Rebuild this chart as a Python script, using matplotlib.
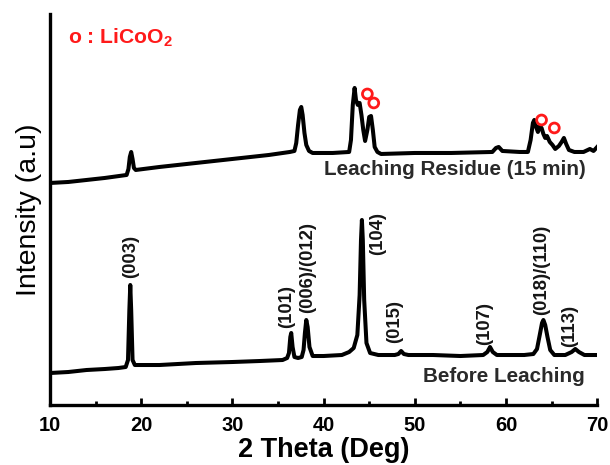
import matplotlib
matplotlib.use("Agg")
import matplotlib.pyplot as plt
from matplotlib.ticker import MultipleLocator

plt.rcParams['font.family'] = ['Liberation Sans', 'DejaVu Sans']
plt.rcParams['mathtext.fontset'] = 'custom'
plt.rcParams['mathtext.rm'] = 'Liberation Sans:bold'
plt.rcParams['mathtext.bf'] = 'Liberation Sans:bold'

# Before leaching pattern (2theta, intensity a.u.)
before_2theta = [10.0, 12.0, 14.0, 16.0, 17.5, 18.3, 18.55, 18.7, 18.8, 18.9, 19.05, 19.3, 22.0, 26.0,
                 30.0, 33.0, 35.5, 36.0, 36.2, 36.35, 36.45, 36.6, 36.8, 37.2, 37.6, 37.8, 37.95,
                 38.1, 38.25, 38.45, 38.8, 40.0, 42.0, 42.8, 43.3, 43.7, 43.95, 44.1, 44.2, 44.3,
                 44.45, 44.7, 45.1, 46.0, 47.8, 48.2, 48.5, 48.8, 49.3, 52.0, 55.0, 57.5, 57.95,
                 58.25, 58.55, 59.0, 62.0, 63.0, 63.4, 63.7, 63.95, 64.1, 64.3, 64.55, 64.85, 65.3,
                 66.5, 67.2, 67.6, 68.0, 68.6, 70.0]
before_int = [32, 33, 35, 36, 37, 38, 45, 95, 120, 95, 45, 40, 40, 42,
              43, 44, 45, 47, 52, 68, 72, 58, 48, 47, 48, 55, 72,
              85, 78, 58, 49, 49, 50, 53, 57, 70, 110, 165, 185, 165,
              105, 62, 52, 50, 50, 51, 54, 51, 50, 50, 49, 50, 53,
              58, 53, 50, 50, 51, 56, 70, 82, 85, 80, 68, 55, 50,
              50, 53, 56, 53, 50, 50]

# Leaching residue (15 min) pattern
resid_2theta = [10.0, 12.0, 14.0, 16.0, 18.4, 18.6, 18.75, 18.9, 19.05, 19.2, 19.4, 22.0, 25.0, 28.0,
                31.0, 34.0, 36.3, 36.8, 37.0, 37.2, 37.4, 37.55, 37.7, 37.9, 38.1, 38.4, 38.8, 41.0,
                42.8, 43.0, 43.2, 43.4, 43.55, 43.75, 43.95, 44.15, 44.35, 44.55, 44.8, 45.0, 45.2,
                45.4, 45.6, 45.9, 46.3, 50.0, 54.0, 58.5, 58.9, 59.2, 59.6, 61.5, 62.4, 62.7, 62.95,
                63.1, 63.3, 63.5, 63.7, 63.9, 64.1, 64.3, 64.5, 64.8, 65.1, 65.4, 65.8, 66.1, 66.35,
                66.6, 66.9, 67.5, 68.5, 69.2, 69.6, 70.0]
resid_int = [222, 223, 225, 227, 230, 236, 248, 253, 246, 237, 235, 238, 241, 244,
             247, 250, 253, 254, 262, 280, 295, 298, 290, 272, 260, 254, 252, 252,
             253, 265, 300, 317, 305, 300, 302, 290, 275, 264, 275, 288, 289,
             275, 258, 253, 251, 252, 252, 253, 257, 258, 254, 253, 253, 265, 282,
             285, 278, 273, 279, 277, 271, 267, 269, 263, 260, 256, 259, 263, 267,
             261, 255, 253, 253, 256, 254, 258]

# LiCoO2 markers on residue
circle_2theta = [44.8, 45.5, 63.9, 65.3]
circle_int = [311, 302, 285, 277]

# hkl labels
hkl_labels = ['(003)', '(101)', '(006)/(012)', '(015)', '(107)', '(018)/(110)', '(113)']
hkl_2theta = [18.8, 35.9, 38.2, 47.8, 57.7, 63.9, 67.0]
hkl_int = [127, 77, 92, 62, 60, 90, 58]
hkl104_label = '(104)'
hkl104_2theta = 45.9
hkl104_int = 193

xticks = [10, 20, 30, 40, 50, 60, 70]

fig = plt.figure(figsize=(6.10, 4.65), dpi=100)
ax = fig.add_axes([0.082, 0.129, 0.897, 0.841])

ax.plot(before_2theta, before_int, color='black', lw=2.9, solid_joinstyle='round')
ax.plot(resid_2theta, resid_int, color='black', lw=2.9, solid_joinstyle='round')
ax.scatter(circle_2theta, circle_int, s=50, facecolors='none', edgecolors='#ff1a1a', linewidths=2.0, zorder=5)

for lab, x, y in zip(hkl_labels, hkl_2theta, hkl_int):
    ax.text(x, y, lab, rotation=90, ha='center', va='bottom', fontsize=13.3,
            fontweight='bold', color='#151515')
ax.text(hkl104_2theta, hkl104_int, hkl104_label, rotation=90, ha='center', va='top', fontsize=13.3,
        fontweight='bold', color='#151515')

ax.text(40.0, 235, 'Leaching Residue (15 min)', ha='left', va='center', fontsize=14.9,
        fontweight='bold', color='#2a2a2a')
ax.text(50.9, 29, 'Before Leaching', ha='left', va='center', fontsize=14.9,
        fontweight='bold', color='#2a2a2a')
ax.text(12.0, 367, 'o : LiCoO$_2$', ha='left', va='center', fontsize=15.2, color='#ff1a1a',
        fontweight='bold')

ax.set_xlim(10, 70)
ax.set_ylim(0, 391)
ax.set_xticks(xticks)
ax.xaxis.set_minor_locator(MultipleLocator(5))
ax.set_yticks([])
for s in ['top', 'right']:
    ax.spines[s].set_visible(False)
for s in ['left', 'bottom']:
    ax.spines[s].set_linewidth(2.4)
ax.tick_params(axis='x', which='major', direction='in', length=5, width=2, labelsize=14.5, pad=8)
ax.tick_params(axis='x', which='minor', direction='in', length=3, width=2)
for lab in ax.get_xticklabels():
    lab.set_fontweight('bold')

ax.set_xlabel('2 Theta (Deg)', fontsize=19.5, fontweight='bold', labelpad=1)
ax.set_ylabel('Intensity (a.u)', fontsize=20.5, labelpad=6)

fig.savefig('out.png', dpi=100)
